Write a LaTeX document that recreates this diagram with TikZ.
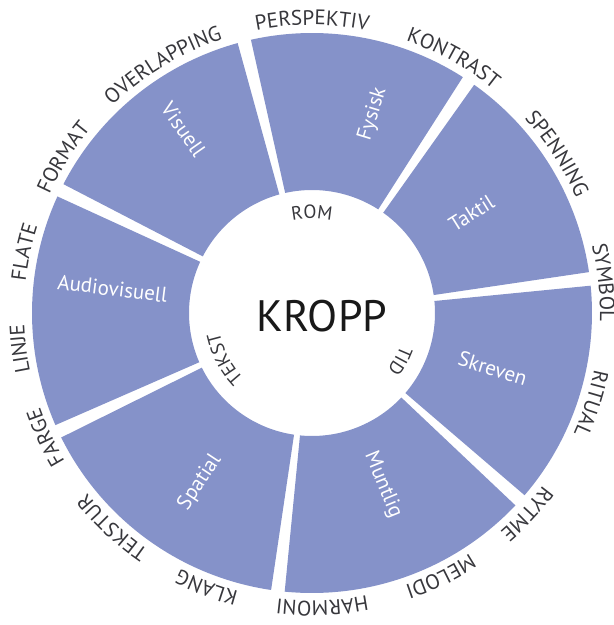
\documentclass[tikz,border=0pt]{standalone}
\usepackage{fontspec}
\setmainfont{PT Sans}
\usetikzlibrary{decorations.text}
\definecolor{wheelblue}{RGB}{133,146,201}
\definecolor{wordgray}{RGB}{55,55,60}
\newcommand\ringwordfont{\fontsize{21}{21}\selectfont\color{wordgray}}
\newcommand\hubwordfont{\fontsize{19}{19}\selectfont\color{wordgray}}

\begin{document}
\begin{tikzpicture}[
    x=1pt, y=1pt,
    sector/.style={fill=wheelblue},
    sectorlabel/.style={text=white, font=\fontsize{21}{21}\selectfont, inner sep=0pt},
    hub/.style={text=black!90, font=\fontsize{44}{44}\selectfont, inner sep=0pt}
]
\useasboundingbox (-312,-312) rectangle (302,313);
\def\rin{123}
\def\rout{280}
\foreach \a/\b in {154/205, 104/154, 56/104, 7/56, -42/7, -97/-42, -155/-97}
  \fill[sector] (\a+1.4:\rin) arc[start angle=\a+1.4, end angle=\b-1.4, radius=\rin]
    -- (\b-1.4:\rout) arc[start angle=\b-1.4, end angle=\a+1.4, radius=\rout] -- cycle;
\foreach \ang/\rad/\rot/\name/\txt in {125/224/-55/vis/Visuell, 73/208/73/fys/Fysisk,
    32/188/32/tak/Taktil, -17/189/-17/skr/Skreven, -67.6/186/-67.6/mun/Muntlig,
    -123.5/203/56.5/spa/Spatial, 173/201/-7/aud/Audiovisuell}
  \node[sectorlabel, rotate=\rot] (\name) at (\ang:\rad) {\txt};
\node[hub] (kropp) at (10,-3) {KROPP};
\foreach \ang/\word in {90/ROM, -28.6/TID, -152.3/TEKST}
  \path[decorate, decoration={text along path, text align=center,
      text/.expanded={|\noexpand\hubwordfont|\word}}]
    (\ang+40:94.5) arc[start angle=\ang+40, end angle=\ang-40, radius=94.5];
\foreach \ang/\word in {90/PERSPEKTIV, 61/KONTRAST, 33/SPENNING, 6/SYMBOL, -18/RITUAL,
    -43/RYTME, -64/MELODI, -88/HARMONI, -111/KLANG, -133/TEKSTUR, -155/FARGE,
    -173/LINJE, 168/FLATE, 148/FORMAT, 121/OVERLAPPING}
  \path[decorate, decoration={text along path, text align=center,
      text/.expanded={|\noexpand\ringwordfont|\word}}]
    (\ang+45:288) arc[start angle=\ang+45, end angle=\ang-45, radius=288];
\end{tikzpicture}
\end{document}
